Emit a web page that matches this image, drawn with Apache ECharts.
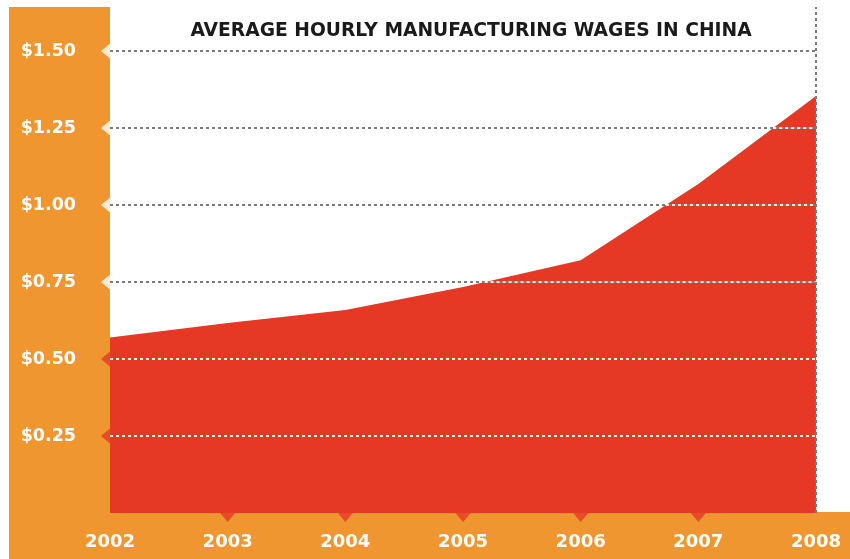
<!DOCTYPE html>
<html>
<head>
<meta charset="utf-8">
<script src="https://cdn.jsdelivr.net/npm/echarts@6/dist/echarts.min.js"></script>
<style>
html,body{margin:0;padding:0;background:#fff;}
#chart{width:850px;height:559px;}
</style>
</head>
<body>
<div id="chart"></div>
<script>
// ---- data ----
const title = 'AVERAGE HOURLY MANUFACTURING WAGES IN CHINA';
const years = [2002, 2003, 2004, 2005, 2006, 2007, 2008];
const wages = [0.57, 0.617, 0.659, 0.734, 0.821, 1.068, 1.354];
const yTicks = [0.25, 0.50, 0.75, 1.00, 1.25, 1.50];

// ---- styles ----
const ORANGE = '#EF9631';
const RED = '#E53825';
const GRAY = '#7a7a7a';
const FONT = '"DejaVu Sans", "Open Sans", sans-serif';

const areaData = years.map((y, i) => [y, wages[i]]);

// white dotted segments where grid lines run inside the red area
function crossing(t) {
  if (wages[0] >= t) return years[0];
  for (let i = 1; i < wages.length; i++) {
    if (wages[i] >= t) {
      const f = (t - wages[i - 1]) / (wages[i] - wages[i - 1]);
      return years[i - 1] + f * (years[i] - years[i - 1]);
    }
  }
  return null;
}
const whiteSegs = [];
yTicks.forEach(t => {
  const x0 = crossing(t);
  if (x0 !== null) whiteSegs.push([{ coord: [x0, t] }, { coord: [years[years.length - 1], t] }]);
});

const leftRed = yTicks.filter(t => t < wages[0]).map(t => [years[0], t]);
const leftWhite = yTicks.filter(t => t >= wages[0]).map(t => [years[0], t]);
const bottomNotches = years.slice(1, -1).map(y => [y, 0]);

const chart = echarts.init(document.getElementById('chart'), null, { renderer: 'canvas' });
chart.setOption({
  animation: false,
  backgroundColor: '#fff',
  title: {
    text: title,
    left: 466,
    top: 17,
    textAlign: 'center',
    textStyle: { fontFamily: FONT, fontWeight: 'bold', fontSize: 18.7, color: '#1a1a1a' }
  },
  graphic: [
    { type: 'rect', z: -10, shape: { x: 9, y: 7, width: 101, height: 552 }, style: { fill: ORANGE } },
    { type: 'rect', z: -10, shape: { x: 9, y: 512, width: 841, height: 47 }, style: { fill: ORANGE } }
  ],
  grid: { left: 110, right: 34, top: 7, bottom: 46, containLabel: false },
  xAxis: {
    type: 'value', min: 2002, max: 2008, interval: 1,
    axisLine: { show: false }, axisTick: { show: false }, splitLine: { show: false },
    axisLabel: {
      margin: 20, color: '#fff', fontFamily: FONT, fontWeight: 'bold', fontSize: 18,
      formatter: v => String(v)
    }
  },
  yAxis: {
    type: 'value', min: 0, max: 1.643, interval: 0.25,
    axisLine: { show: false }, axisTick: { show: false }, splitLine: { show: false },
    axisLabel: {
      margin: 34, color: '#fff', fontFamily: FONT, fontWeight: 'bold', fontSize: 17.5,
      showMinLabel: false, showMaxLabel: false,
      formatter: v => '$' + v.toFixed(2)
    }
  },
  series: [
    {
      // gray dotted grid lines (under the area)
      type: 'line', z: 1, data: areaData, symbol: 'none',
      lineStyle: { opacity: 0 }, silent: true,
      markLine: {
        silent: true, symbol: 'none', label: { show: false },
        lineStyle: { color: GRAY, type: [3, 3], width: 2 },
        data: yTicks.map(t => ({ yAxis: t }))
      }
    },
    {
      type: 'line', z: 2, data: areaData, symbol: 'none',
      lineStyle: { width: 0, color: RED },
      areaStyle: { color: RED, opacity: 1 },
      markLine: {
        silent: true, symbol: 'none', label: { show: false },
        lineStyle: { color: 'rgba(255,255,255,0.9)', type: [3, 3], width: 2 },
        data: whiteSegs
      }
    },
    {
      // right border dotted line
      type: 'line', z: 5, data: [], symbol: 'none',
      markLine: {
        silent: true, symbol: 'none', label: { show: false },
        lineStyle: { color: GRAY, type: [3, 3], width: 2 },
        data: [{ xAxis: years[years.length - 1] }]
      }
    },
    {
      type: 'scatter', z: 3, data: leftRed, symbol: 'triangle',
      symbolSize: [15, 9], symbolRotate: 90, symbolOffset: [-4.5, 0],
      itemStyle: { color: RED }, silent: true
    },
    {
      type: 'scatter', z: 3, data: leftWhite, symbol: 'triangle',
      symbolSize: [15, 9], symbolRotate: 90, symbolOffset: [-4.5, 0],
      itemStyle: { color: '#fff' }, silent: true
    },
    {
      type: 'scatter', z: 3, data: bottomNotches, symbol: 'triangle',
      symbolSize: [15, 9], symbolRotate: 180, symbolOffset: [0, 4.5],
      itemStyle: { color: RED }, silent: true
    }
  ]
});
</script>
</body>
</html>
